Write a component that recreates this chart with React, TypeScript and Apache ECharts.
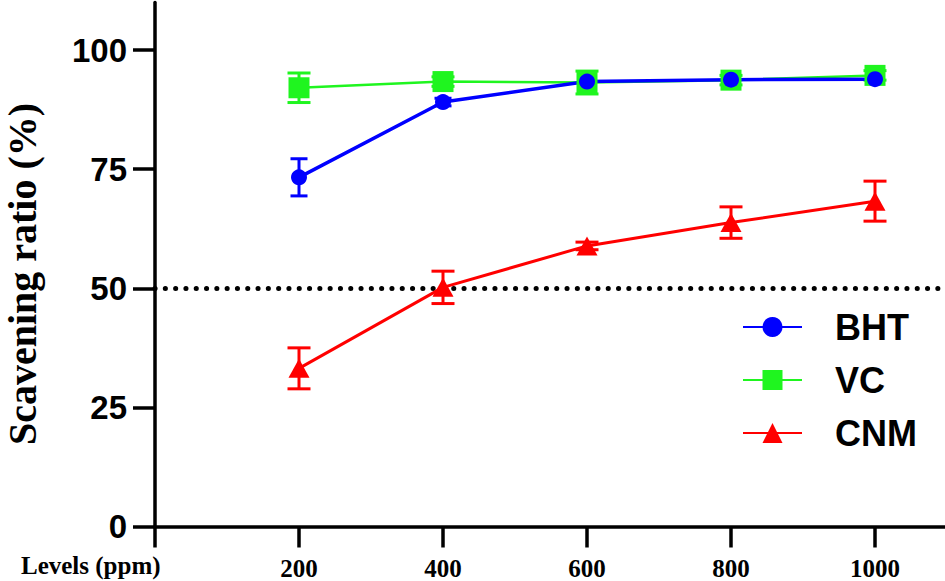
import React, { useEffect, useRef } from "react";
import * as echarts from "echarts";

const levels = [200, 400, 600, 800, 1000];
const bht = [73.3, 89.1, 93.4, 93.8, 93.9];
const bhtErr = [3.9, 0.8, 0.6, 0.5, 0.5];
const vc = [92.1, 93.4, 93.2, 93.7, 94.7];
const vcErr = [3.1, 1.0, 2.4, 1.0, 1.0];
const cnm = [33.2, 50.2, 58.9, 63.8, 68.3];
const cnmErr = [4.3, 3.4, 0.8, 3.3, 4.2];
const threshold = 50;
const xTicks = [0, 200, 400, 600, 800, 1000];
const xLabels = [200, 400, 600, 800, 1000];
const yTicks = [0, 25, 50, 75, 100];
const xTitle = "Levels (ppm)";
const yTitle = "Scavening ratio (%)";

const BLUE = "#0000ff";
const GREEN = "#1ff51f";
const RED = "#ff0000";

const sans = "'Liberation Sans', Arial, Helvetica, sans-serif";
const serif = "'Liberation Serif', 'Times New Roman', serif";

function errData(vals: number[], errs: number[]) {
  return levels.map((x, i) => [x, vals[i] - errs[i], vals[i] + errs[i]]);
}

function errRender(color: string, capW: number, lw: number) {
  return (params: any, api: any) => {
    const x = api.value(0);
    const lo = api.coord([x, api.value(1)]);
    const hi = api.coord([x, api.value(2)]);
    const style = { stroke: color, lineWidth: lw, fill: "none" };
    return {
      type: "group",
      children: [
        { type: "line", shape: { x1: hi[0], y1: hi[1], x2: lo[0], y2: lo[1] }, style },
        { type: "line", shape: { x1: hi[0] - capW / 2, y1: hi[1], x2: hi[0] + capW / 2, y2: hi[1] }, style },
        { type: "line", shape: { x1: lo[0] - capW / 2, y1: lo[1], x2: lo[0] + capW / 2, y2: lo[1] }, style },
      ],
    };
  };
}

export default function App() {
  const ref = useRef<HTMLDivElement>(null);
  useEffect(() => {
    if (!ref.current) return;
    const chart = echarts.init(ref.current, undefined, { renderer: "svg" });
    const axisLine = { show: true, lineStyle: { color: "#000", width: 3.5 } };
    chart.setOption({
      animation: false,
      backgroundColor: "#fff",
      grid: {
        left: 155,
        top: 2.5,
        width: 792,
        height: 524,
        containLabel: false,
        outerBoundsMode: "none",
      },
      graphic: [
        {
          type: "text",
          left: 21,
          top: 553,
          style: {
            text: xTitle,
            fontFamily: serif,
            fontWeight: "bold",
            fontSize: 25,
            fill: "#000",
          },
        },
        {
          type: "text",
          x: 22,
          y: 274,
          rotation: Math.PI / 2,
          style: {
            text: yTitle,
            fontFamily: serif,
            fontWeight: "bold",
            fontSize: 40,
            fill: "#000",
            align: "center",
            verticalAlign: "middle",
          },
        },
      ],
      xAxis: {
        type: "value",
        min: 0,
        max: 1100,
        axisLine: { ...axisLine, onZero: false },
        axisTick: {
          show: true,
          length: 21,
          inside: false,
          customValues: xTicks,
          lineStyle: { color: "#000", width: 3.5 },
        },
        axisLabel: {
          customValues: xLabels,
          formatter: (v: number) => String(v),
          margin: 29,
          fontFamily: serif,
          fontWeight: "bold",
          fontSize: 25,
          color: "#000",
        },
        splitLine: { show: false },
      },
      yAxis: {
        type: "value",
        min: 0,
        max: 110,
        axisLine: { ...axisLine, onZero: false },
        axisTick: {
          show: true,
          length: 22,
          customValues: yTicks,
          lineStyle: { color: "#000", width: 3.5 },
        },
        axisLabel: {
          customValues: yTicks,
          formatter: (v: number) => String(v),
          margin: 28,
          fontFamily: sans,
          fontWeight: "bold",
          fontSize: 33,
          color: "#000",
        },
        splitLine: { show: false },
      },
      legend: {
        orient: "vertical",
        left: 742,
        top: 307,
        padding: 0,
        itemWidth: 59,
        itemHeight: 25,
        itemGap: 13,
        data: ["BHT", "VC", "CNM"],
        textStyle: {
          fontFamily: sans,
          fontWeight: "bold",
          fontSize: 36,
          lineHeight: 40,
          color: "#000",
          padding: [0, 0, 0, 28],
        },
      },
      series: [
        {
          type: "custom",
          name: "VC err",
          data: errData(vc, vcErr),
          encode: { x: 0, y: [1, 2] },
          renderItem: errRender(GREEN, 23, 3),
          silent: true,
        },
        {
          type: "custom",
          name: "BHT err",
          data: errData(bht, bhtErr),
          encode: { x: 0, y: [1, 2] },
          renderItem: errRender(BLUE, 17, 3),
          silent: true,
        },
        {
          type: "custom",
          name: "CNM err",
          data: errData(cnm, cnmErr),
          encode: { x: 0, y: [1, 2] },
          renderItem: errRender(RED, 23, 3),
          silent: true,
        },
        {
          type: "line",
          name: "VC",
          data: levels.map((x, i) => [x, vc[i]]),
          symbol: "rect",
          symbolSize: 21,
          itemStyle: { color: GREEN },
          lineStyle: { color: GREEN, width: 2.5 },
        },
        {
          type: "line",
          name: "BHT",
          data: levels.map((x, i) => [x, bht[i]]),
          symbol: "circle",
          symbolSize: 16,
          itemStyle: { color: BLUE },
          lineStyle: { color: BLUE, width: 3.5 },
        },
        {
          type: "line",
          name: "CNM",
          data: levels.map((x, i) => [x, cnm[i]]),
          symbol: "triangle",
          symbolSize: [21, 19],
          itemStyle: { color: RED },
          lineStyle: { color: RED, width: 3 },
          markLine: {
            silent: true,
            symbol: "none",
            label: { show: false },
            z: 1,
            lineStyle: { color: "#000", width: 5, type: [0.1, 10.2], cap: "round" },
            data: [{ yAxis: threshold }],
          },
        },
      ],
    });
    return () => chart.dispose();
  }, []);
  return (
    <div
      ref={ref}
      style={{ position: "fixed", left: 0, top: 0, width: 945, height: 581, background: "#fff" }}
    />
  );
}
